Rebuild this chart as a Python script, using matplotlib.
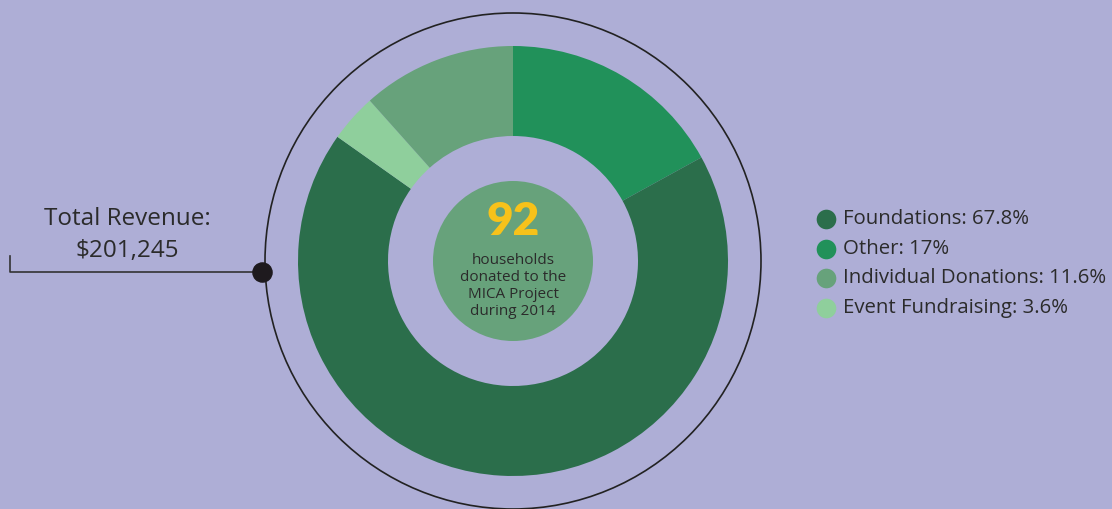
import matplotlib
matplotlib.use("Agg")
import matplotlib.pyplot as plt
from matplotlib.patches import Circle

# revenue breakdown (legend order)
categories = ["Foundations", "Other", "Individual Donations", "Event Fundraising"]
shares = [67.8, 17, 11.6, 3.6]
colors = ["#2b6e4b", "#21915a", "#67a27b", "#8fcf9c"]

# order the slices are drawn clockwise from 12 o'clock
pie_order = ["Other", "Foundations", "Event Fundraising", "Individual Donations"]

total_revenue = "$201,245"
households = 92
households_text = "households\ndonated to the\nMICA Project\nduring 2014"

BG = "#aeaed6"
INK = "#2b2b2b"
plt.rcParams["font.family"] = ["Open Sans", "DejaVu Sans"]

W, H = 1112, 509
fig = plt.figure(figsize=(W / 100, H / 100), dpi=100, facecolor=BG)
ax = fig.add_axes([0, 0, 1, 1])
ax.set_facecolor(BG)

cx, cy = 513, H - 261

idx = [categories.index(c) for c in pie_order]
ax.pie([shares[i] for i in idx], colors=[colors[i] for i in idx],
       startangle=90, counterclock=False, radius=215, center=(cx, cy),
       wedgeprops=dict(width=90, linewidth=0))

# thin outer ring
ax.add_patch(Circle((cx, cy), 248, fill=False, lw=1.2, ec="#222222", zorder=3))

# center badge
ax.add_patch(Circle((cx, cy), 80, color="#67a27b", lw=0, zorder=3))
ax.text(cx, H - 221, str(households), ha="center", va="center",
        fontsize=33, fontweight="heavy", color="#f7c21a", zorder=4,
        family=["Lato", "DejaVu Sans"])
ax.text(cx, H - 286, households_text, ha="center", va="center",
        fontsize=11, color=INK, linespacing=1.2, zorder=4)

# total revenue callout
ax.plot([10, 10, 262], [H - 256, H - 272, H - 272], color="#333333", lw=1.2, zorder=2)
ax.scatter([262], [H - 272], s=190, color="#1e1a1e", zorder=5)
ax.text(127, H - 219, "Total Revenue:", ha="center", va="center",
        fontsize=17.5, color=INK)
ax.text(127, H - 251, total_revenue, ha="center", va="center",
        fontsize=17.5, color=INK)

# legend
for k, (cat, val, col) in enumerate(zip(categories, shares, colors)):
    y = H - (219 + k * 29.5)
    ax.scatter([826], [y], s=200, color=col, lw=0, zorder=4)
    ax.text(843, y, f"{cat}: {val:g}%", ha="left", va="center",
            fontsize=14.7, color=INK)

ax.set_xlim(0, W)
ax.set_ylim(0, H)
ax.set_aspect("auto")
ax.axis("off")

fig.savefig("out.png", dpi=100, facecolor=BG)
